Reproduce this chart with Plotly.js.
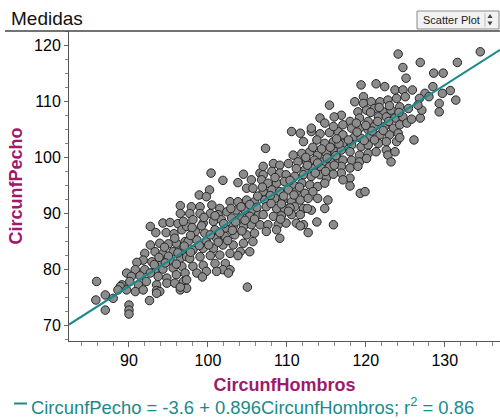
<!DOCTYPE html>
<html><head><meta charset="utf-8">
<script src="https://cdn.plot.ly/plotly-3.0.1.min.js"></script>
<style>html,body{margin:0;padding:0;background:#fff;}#chart{width:500px;height:419px;}</style>
</head><body><div id="chart"></div>
<script>
// [CircunfHombros, CircunfPecho] pairs, grouped by region
const grupoA = [
[92.7,87.7],[94.3,88.3],[95.2,88.4],[96.2,88.2],[93.4,86.6],[94.7,86.6],[95.7,86.4],[96.7,87.1],[97.3,87.7],
[92.7,84.4],[93.9,84.7],[95.0,84.6],[96.0,84.7],[97.1,85.0],
[92.0,82.9],[93.3,83.2],[94.3,82.9],[95.6,83.2],[96.7,83.4],
[91.8,81.7],[92.9,81.4],[94.1,81.4],[95.2,81.7],[96.5,82.0],[97.3,82.3],
[91.0,81.3],[90.8,80.0],[92.0,80.0],[93.3,80.0],[94.3,80.1],[95.6,80.3],[96.7,80.6],
[89.7,79.4],[90.3,78.8],[91.4,78.9],[92.7,79.4],[93.7,78.8],[94.8,78.5],[96.0,79.1],[97.1,79.4],
[89.1,77.3],[90.1,77.9],[91.2,77.3],[92.2,77.9],[93.5,77.3],[94.8,77.6],[95.8,77.6],[96.9,77.9],
[88.9,77.0],[88.6,76.4],[89.7,76.4],[90.8,76.1],[91.8,76.4],[93.5,76.3],[93.9,76.1],[96.5,76.4],[97.3,76.7],
[92.6,74.5],[93.5,75.8],
[85.9,77.9],[87.0,75.5],[88.0,74.9],[85.8,74.6],[87.0,72.8],[90.0,73.7],[90.0,72.8],[90.0,72.1]
];
const grupoB = [
[100.4,97.2],[104.5,97.0],[106.6,97.2],[101.9,95.9],[103.8,95.5],[105.5,96.0],[100.2,94.2],[98.9,93.3],[99.8,93.0],[104.9,94.5],[105.7,94.5],[96.5,91.4],[97.9,91.2],[99.0,91.2],[100.5,91.5],[101.5,90.9],[102.8,92.1],[103.8,92.1],[104.9,92.4],[105.9,92.1],
[96.5,90.0],[97.7,90.0],[99.0,90.0],[100.3,90.0],[101.3,89.8],[102.4,90.3],[103.6,90.6],[104.7,90.6],[105.7,90.6],
[96.9,88.6],[98.1,88.9],[99.4,88.3],[100.7,88.6],[101.7,88.9],[103.0,89.2],[104.1,89.2],[105.3,89.5],[106.4,89.8],
[98.4,86.8],[99.6,86.5],[100.9,87.1],[102.2,87.4],[103.2,87.7],[104.5,87.7],[105.5,88.0],
[97.5,85.0],[98.6,85.3],[99.8,85.0],[101.1,85.6],[102.2,85.9],[103.4,86.2],[104.9,86.2],[105.9,86.5],
[98.1,83.5],[99.4,83.8],[100.7,83.8],[101.9,84.4],[103.2,84.4],[104.5,84.7],[105.7,85.0],
[97.7,82.0],[99.0,82.3],[100.3,82.5],[101.5,82.6],[102.8,82.9],[104.1,83.2],[105.3,83.2],
[98.1,80.6],[99.4,80.8],[100.9,81.1],[102.2,81.1],[103.8,82.5],[102.8,80.0],[101.9,80.0],
[98.6,79.4],[99.8,79.7],[101.1,79.7],[102.6,79.4],
[96.5,76.9],[97.3,78.2],[105.0,76.9],[99.3,78.7]
];
const grupoC = [
[110.6,104.6],[111.7,104.3],[113.1,104.6],[114.2,104.2],[115.4,104.4],[116.5,104.6],[112.1,102.8],[113.8,103.1],[114.8,102.5],[115.9,102.8],
[107.3,101.6],
[110.8,100.4],[111.9,100.7],[112.9,101.0],[113.9,100.4],[115.0,100.7],[116.1,101.0],[111.4,99.2],[112.5,99.2],[113.5,99.5],[114.6,99.2],[115.7,99.5],[116.5,99.8],
[107.0,98.4],[108.3,98.9],[109.1,98.6],[110.2,98.9],[111.2,98.0],[112.3,97.8],[113.3,98.0],[114.4,98.0],[115.4,98.3],
[107.0,96.9],[108.1,97.5],[109.1,97.2],[109.9,96.9],[111.0,96.6],[112.1,96.9],[113.1,96.6],[114.2,96.9],[115.0,96.3],
[106.8,96.0],[107.6,95.4],[108.7,95.4],[109.7,95.7],[110.8,95.1],[111.9,95.4],[112.9,95.1],[113.9,94.8],[114.8,95.4],
[107.0,93.9],[108.1,94.2],[109.1,93.9],[110.2,94.2],[111.2,93.9],[112.3,93.6],[113.3,93.9],
[107.2,92.4],[108.5,92.7],[109.5,92.4],[110.6,92.1],[111.7,92.4],[112.7,92.7],[113.9,92.7],[115.2,92.4],
[107.4,91.2],[108.7,90.9],[109.7,90.9],[111.0,91.2],[112.1,90.9],[113.1,90.6],[114.8,90.9],
[107.0,89.8],[108.3,89.5],[109.3,89.6],[110.6,89.8],[111.7,89.8],
[106.6,88.0],[107.6,88.0],[108.9,88.0],[109.9,88.3],[111.2,88.3],[112.1,88.0],
[107.4,86.8],[108.7,87.1],[109.1,85.6],
[112.6,90.9],[113.8,88.5],[115.9,88.0],[111.7,87.8],[112.7,86.6]
];
const grupoD = [
[119.4,112.9],[121.3,113.1],[122.4,112.6],[123.7,112.0],[124.7,112.0],[119.7,110.8],[118.6,109.9],[119.7,109.6],[120.7,109.9],[121.8,109.9],[122.8,110.2],[123.9,110.5],[125.0,110.8],
[115.4,109.3],[119.0,108.1],[120.1,108.4],[121.1,108.7],[122.2,108.1],[123.2,108.4],[124.3,109.0],[125.4,108.7],
[114.2,107.0],[116.9,107.5],[118.0,106.4],[119.2,107.0],[120.3,106.4],[121.6,107.2],[122.6,107.2],[123.7,107.0],[124.7,107.2],
[113.1,105.2],[114.8,106.1],[115.9,105.5],[117.1,105.8],[118.2,105.2],[119.2,105.2],[120.3,104.9],[121.1,105.5],[122.4,105.5],[123.5,105.2],[124.3,105.8],[125.2,106.1],
[117.1,104.0],[118.6,103.7],[119.4,103.4],[120.5,103.7],[121.8,104.0],[123.0,104.0],[124.1,104.3],
[117.1,102.5],[118.2,102.2],[119.4,101.9],[120.3,102.2],[121.6,102.5],[122.6,102.8],[123.9,102.8],
[116.9,101.3],[118.0,101.0],[119.2,100.4],[120.3,100.7],[121.3,101.0],[122.6,101.3],
[117.1,99.5],[118.2,99.5],[119.2,99.2],[120.1,99.8],[122.8,100.4],[123.7,101.0],[123.2,99.2],
[116.9,98.4],[118.0,98.1],[119.0,98.4],[116.9,97.2],[118.0,96.3],[117.1,96.0],[118.0,94.9],
[116.0,107.2],[119.3,93.6],[119.9,93.9]
];
const grupoE = [
[124.1,118.4],[134.5,118.8],[126.9,116.9],[131.6,116.9],[124.7,116.0],[128.6,115.0],[129.8,115.0],[125.1,114.1],
[128.5,112.6],[129.7,111.4],[130.7,111.9],[131.4,110.2],[129.3,109.6],[129.3,108.1],[126.9,107.0],[125.8,106.8],
[127.5,111.4],[126.8,110.5],[128.0,110.8],[127.1,108.4],[125.9,112.0],[126.1,103.1],[124.3,103.5],[126.6,109.3]
];
// points hidden in the densest part of the band (overlapping marks)
const grupoF = [
[93.8,82.2],[95.0,82.4],[96.2,83.0],[94.5,84.0],[95.8,85.6],[93.2,80.9],[94.6,81.2],[96.0,81.0],[97.0,84.2],[97.8,83.1],
[98.0,87.5],[99.2,87.8],[100.3,86.2],[101.5,86.6],[98.9,84.3],[100.1,84.4],[101.3,84.9],[102.5,85.2],[99.5,89.3],[100.9,89.6],[102.0,88.2],[97.8,86.1],
[103.5,88.5],[104.7,88.8],[105.9,89.0],[102.9,90.9],[104.2,91.2],[105.3,91.6],[106.2,91.1],[103.1,87.0],[104.3,86.9],
[106.3,93.1],[106.9,94.7],[107.9,93.2],[109.6,93.1],[110.9,93.3],[108.0,91.8],[109.3,91.7],[110.4,91.0],[108.5,96.4],[110.4,95.9],[111.6,94.7],[109.2,89.0],[110.2,90.4],
[112.6,98.6],[113.9,99.0],[115.1,99.9],[116.2,100.3],[112.4,100.0],[113.3,101.8],[114.4,101.5],[115.5,101.8],[116.6,102.4],[117.8,103.1],[116.3,103.3],[113.6,97.2],[114.9,97.5],[116.0,98.6],[115.9,97.0],
[118.9,104.5],[120.0,105.7],[121.5,106.4],[122.9,106.4],[120.8,104.7],[122.2,104.8],[119.8,103.0],[121.1,103.1],[118.8,106.1],[120.6,108.0],[121.7,108.9],[123.0,109.2],[124.2,108.0]
];
const intercepto = -3.6, pendiente = 0.896, r2 = 0.86;
const xTicks = [90,100,110,120,130];
const yTicks = [70,80,90,100,110,120];
const xRange = [82.4, 137.0];
const yRange = [67.3, 122.5];

const puntos = grupoA.concat(grupoB, grupoC, grupoD, grupoE, grupoF);
const hombros = puntos.map(p => p[0]);
const pecho = puntos.map(p => p[1]);
const lineX = xRange.slice();
const lineY = lineX.map(x => intercepto + pendiente * x);

const teal = '#1a8a8a', magenta = '#9e1a6c';
const traces = [
  {x: hombros, y: pecho, type: 'scatter', mode: 'markers', hoverinfo: 'x+y',
   marker: {size: 8.5, color: '#8c8c8c', line: {color: '#262626', width: 1}}},
  {x: lineX, y: lineY, type: 'scatter', mode: 'lines', line: {color: teal, width: 2}}
];
function px(x){return (x-69)/431;}
function py(y){return (341-y)/310;}
const layout = {
  width: 500, height: 419, margin: {l: 69, r: 0, t: 31, b: 78},
  paper_bgcolor: '#fff', plot_bgcolor: '#fff', showlegend: false,
  font: {family: 'Liberation Sans, Arial, sans-serif', size: 16, color: '#000'},
  xaxis: {range: xRange, tickvals: xTicks, ticktext: xTicks.map(String), ticks: 'outside', ticklen: 5, tickcolor: '#666',
    showline: true, linecolor: '#555', linewidth: 1, showgrid: false, zeroline: false, automargin: false,
    minor: {dtick: 2, ticks: 'outside', ticklen: 4, tickcolor: '#888', showgrid: false},
    tickfont: {size: 16, color: '#000'},
    title: {text: '<b>CircunfHombros</b>', font: {size: 18, color: magenta}, standoff: 10}},
  yaxis: {range: yRange, tickvals: yTicks, ticktext: yTicks.map(String), ticks: 'outside', ticklen: 4, tickcolor: '#666',
    showline: true, linecolor: '#555', linewidth: 1, showgrid: false, zeroline: false, automargin: false,
    minor: {dtick: 2.5, ticks: 'outside', ticklen: 3, tickcolor: '#888', showgrid: false},
    tickfont: {size: 16, color: '#000'},
    title: {text: '<b>CircunfPecho</b>', font: {size: 18, color: magenta}, standoff: 6}},
  shapes: [
    {type: 'line', xref: 'paper', yref: 'paper', x0: px(5), x1: 1, y0: 1, y1: 1, line: {color: '#444', width: 1.5}},
    {type: 'rect', xref: 'paper', yref: 'paper', x0: px(417), x1: px(499), y0: py(29), y1: py(11), fillcolor: '#f2f2f2', line: {color: '#8a8a8a', width: 1}},
    {type: 'line', xref: 'paper', yref: 'paper', x0: px(485), x1: px(485), y0: py(27), y1: py(13), line: {color: '#bbb', width: 1}},
    {type: 'path', xref: 'paper', yref: 'paper', path: `M ${px(487.5)},${py(18)} L ${px(492.5)},${py(18)} L ${px(490)},${py(14)} Z`, fillcolor: '#444', line: {width: 0}},
    {type: 'path', xref: 'paper', yref: 'paper', path: `M ${px(487.5)},${py(21.5)} L ${px(492.5)},${py(21.5)} L ${px(490)},${py(25.5)} Z`, fillcolor: '#444', line: {width: 0}},
    {type: 'line', xref: 'paper', yref: 'paper', x0: px(14), x1: px(27), y0: py(403.5), y1: py(403.5), line: {color: teal, width: 2}}
  ],
  annotations: [
    {text: 'Medidas', xref: 'paper', yref: 'paper', x: px(9), y: py(19), xanchor: 'left', yanchor: 'middle', showarrow: false,
     font: {size: 19, color: '#111'}},
    {text: 'Scatter Plot', xref: 'paper', yref: 'paper', x: px(451), y: py(20), xanchor: 'center', yanchor: 'middle', showarrow: false,
     font: {size: 11, color: '#222'}},
    {text: `CircunfPecho = ${intercepto} + ${pendiente}CircunfHombros; r<sup>2</sup> = ${r2}`, xref: 'paper', yref: 'paper',
     x: px(29), y: py(406), xanchor: 'left', yanchor: 'middle', showarrow: false, font: {size: 18.4, color: teal}}
  ]
};
Plotly.newPlot('chart', traces, layout, {displayModeBar: false, staticPlot: true});
</script>
</body></html>
